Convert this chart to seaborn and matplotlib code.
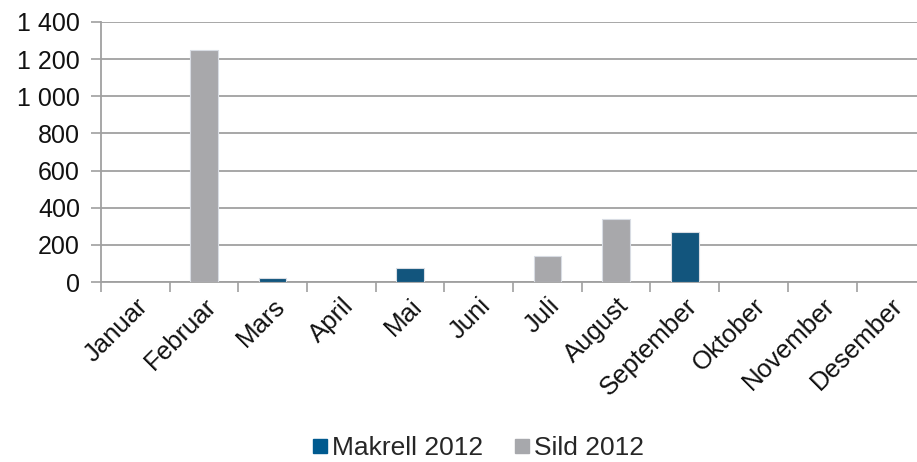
import pandas as pd
import numpy as np
import matplotlib
matplotlib.use("Agg")
import matplotlib.pyplot as plt
import seaborn as sns
from matplotlib.ticker import FuncFormatter, MultipleLocator
from matplotlib.lines import Line2D

# Data
months = ['Januar', 'Februar', 'Mars', 'April', 'Mai', 'Juni',
          'Juli', 'August', 'September', 'Oktober', 'November', 'Desember']
makrell_2012 = [np.nan, np.nan, 20, np.nan, 77, np.nan,
                np.nan, np.nan, 270, np.nan, np.nan, np.nan]
sild_2012 = [np.nan, 1250, np.nan, np.nan, np.nan, np.nan,
             138, 338, np.nan, np.nan, np.nan, np.nan]
series_names = ['Makrell 2012', 'Sild 2012']
colors = {'Makrell 2012': '#005A8F', 'Sild 2012': '#A7A8AC'}

df = pd.DataFrame({
    'month': months * 2,
    'series': [series_names[0]] * 12 + [series_names[1]] * 12,
    'value': makrell_2012 + sild_2012,
}).dropna()

sns.set_style('white')
plt.rcParams['font.family'] = ['Liberation Sans', 'DejaVu Sans']

fig = plt.figure(figsize=(9.17, 4.62), dpi=100)
ax = fig.add_axes([0.110, 0.3896, 0.899, 0.5628])

sns.barplot(data=df, x='month', y='value', hue='series', order=months,
            hue_order=series_names, palette=colors, dodge=False, width=0.4,
            edgecolor='#D8DCE3', linewidth=0.8, ax=ax, legend=False, zorder=3)

ax.set_xlim(-0.5, 11.5)
ax.set_ylim(0, 1400)
ax.yaxis.set_major_locator(MultipleLocator(200))
ax.yaxis.set_major_formatter(FuncFormatter(lambda v, p: f'{int(v):,}'.replace(',', ' ')))
ax.grid(axis='y', color='#A0A0A0', linewidth=1.3, zorder=0)
ax.set_axisbelow(True)

for side in ['top', 'right']:
    ax.spines[side].set_visible(False)
for side in ['left', 'bottom']:
    ax.spines[side].set_color('#A0A0A0')
    ax.spines[side].set_linewidth(1.3)

# y ticks outward, x ticks at category boundaries
ax.tick_params(axis='y', which='major', left=True, length=7, width=1.2,
               color='#A0A0A0', labelsize=18, pad=8, labelcolor='#111111')
ax.set_xticks(np.arange(-0.5, 12, 1), minor=True)
ax.tick_params(axis='x', which='minor', bottom=True, length=7, width=1.2, color='#A0A0A0')
ax.tick_params(axis='x', which='major', bottom=False, labelsize=18.5, pad=5, labelcolor='#111111')
ax.set_xticks(range(len(months)))
ax.set_xticklabels(months, rotation=45, ha='right', rotation_mode='anchor')
ax.set_xlabel('')
ax.set_ylabel('')

handles = [Line2D([], [], marker='s', linestyle='', markersize=10,
                  markerfacecolor=colors[n], markeredgecolor=colors[n]) for n in series_names]
fig.legend(handles, series_names, loc='center', bbox_to_anchor=(0.52, 0.03), ncol=2,
           frameon=False, fontsize=19, handletextpad=0.05, columnspacing=1.1,
           handlelength=0.8)

fig.savefig('out.png', dpi=100)
